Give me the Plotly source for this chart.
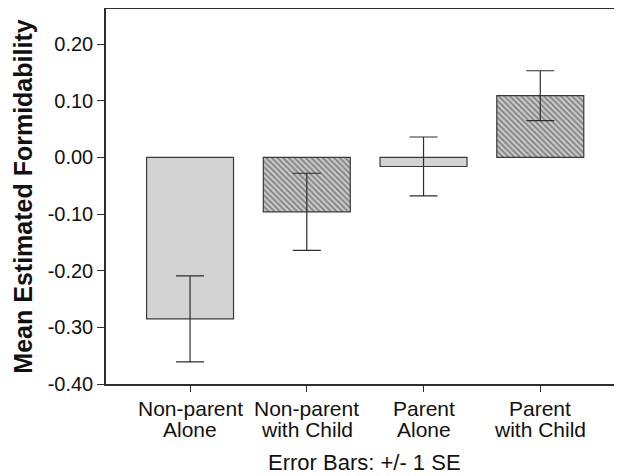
import plotly.graph_objects as go

categories = ["Non-parent Alone", "Non-parent with Child", "Parent Alone", "Parent with Child"]
label_line1 = ["Non-parent", "Non-parent", "Parent", "Parent"]
label_line2 = ["Alone", "with Child", "Alone", "with Child"]
means = [-0.285, -0.096, -0.016, 0.109]
se = [0.076, 0.068, 0.052, 0.044]
hatched = [False, True, False, True]
y_ticks = [-0.40, -0.30, -0.20, -0.10, 0.00, 0.10, 0.20]

FONT = "Liberation Sans, Arial, sans-serif"
DARK = "#2e2e2e"

fig = go.Figure()
fig.add_trace(go.Bar(
    x=list(range(len(categories))),
    y=means,
    width=0.745,
    marker=dict(
        color="#d3d3d3",
        line=dict(color="#3a3a3a", width=1.2),
        pattern=dict(
            shape=["\\" if h else "" for h in hatched],
            fgcolor="#3a3a3a",
            bgcolor="#cfcfcf",
            size=4,
            solidity=0.5,
            fillmode="overlay",
        ),
    ),
    error_y=dict(type="data", array=se, visible=True, color=DARK, thickness=1.2, width=14),
    showlegend=False,
    hoverinfo="skip",
))

for i in range(len(categories)):
    fig.add_annotation(x=i, xref="x", y=0, yref="paper", yanchor="middle",
                       yshift=-24, text=label_line1[i], showarrow=False,
                       font=dict(family=FONT, size=21, color="#111"))
    fig.add_annotation(x=i, xref="x", y=0, yref="paper", yanchor="middle",
                       yshift=-45, text=label_line2[i], showarrow=False,
                       font=dict(family=FONT, size=21, color="#111"))

fig.add_annotation(x=0.5, xref="paper", y=0, yref="paper", yanchor="middle",
                   yshift=-78, text="Error Bars: +/- 1 SE", showarrow=False,
                   font=dict(family=FONT, size=22, color="#111"))

fig.update_layout(
    width=614, height=468,
    margin=dict(l=98, r=0, t=1, b=92),
    paper_bgcolor="white", plot_bgcolor="white",
    font=dict(family=FONT, color="#111"),
    bargap=0.25,
)
fig.update_xaxes(
    range=[-0.72, 3.70],
    tickvals=list(range(len(categories))), ticktext=[""] * len(categories),
    showline=True, linecolor=DARK, linewidth=1.5, mirror=True,
    ticks="outside", ticklen=6, tickcolor=DARK, tickwidth=1,
    showgrid=False, zeroline=False,
)
fig.update_yaxes(
    range=[-0.40, 0.262],
    tickvals=y_ticks, ticktext=[f"{v:.2f}" for v in y_ticks],
    tickfont=dict(family=FONT, size=20, color="#111"),
    showline=True, linecolor=DARK, linewidth=1.5,
    ticks="outside", ticklen=7, tickcolor=DARK, tickwidth=1,
    showgrid=False, zeroline=False,
    title=dict(text="<b>Mean Estimated Formidability</b>",
               font=dict(family=FONT, size=25, color="#111"), standoff=8),
)

fig.write_html("out.html")
